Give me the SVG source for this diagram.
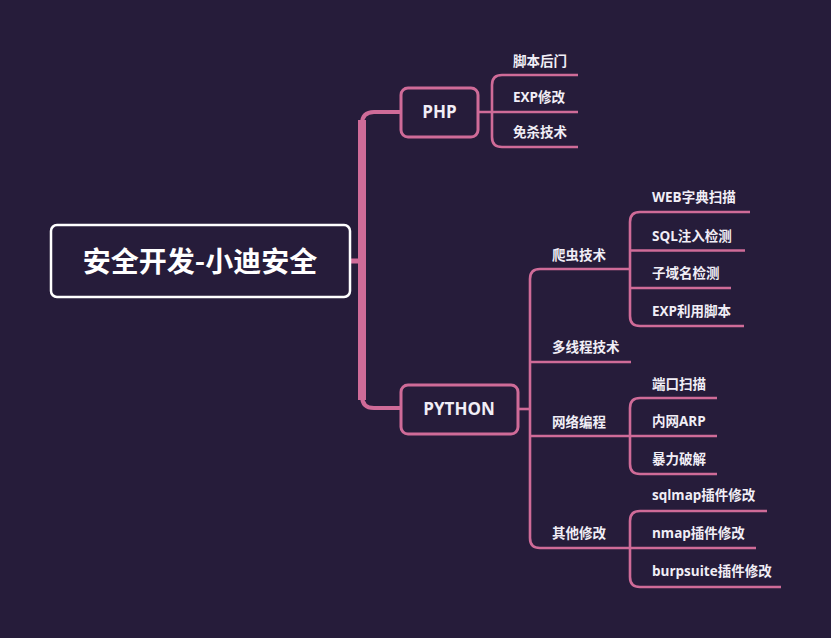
<svg xmlns="http://www.w3.org/2000/svg" width="831" height="638" viewBox="0 0 831 638">
<style>
.ln{fill:none;stroke:#cf6b98;stroke-width:2.6;stroke-linecap:butt}
.t{font-family:"Open Sans","Noto Sans CJK SC",sans-serif;font-weight:bold;fill:#f1eef6;font-size:13.5px}
.nb{fill:#261c3a;stroke:#cf6b98;stroke-width:3}
.nt{font-family:"Open Sans","Noto Sans CJK SC",sans-serif;font-weight:bold;fill:#f1eef6;font-size:17px;text-anchor:middle}
</style>
<rect width="831" height="638" fill="#261c3a"/>
<g id="connectors">
<path d="M350 261 H363" stroke="#cf6b98" stroke-width="5" fill="none"/>
<path d="M401 112 H374 Q362 112 362 124 V396 Q362 408 374 408 H401" fill="none" stroke="#cf6b98" stroke-width="4"/>
<path d="M362 120 V400" stroke="#cf6b98" stroke-width="8" fill="none"/>
<path class="ln" d="M478 112 H578"/>
<path class="ln" d="M578 75 H502 Q492 75 492 85 V137 Q492 147 502 147 H578"/>
<path class="ln" d="M518 409 H530"/>
<path class="ln" d="M630 269 H540 Q530 269 530 279 V538 Q530 548 540 548 H630"/>
<path class="ln" d="M530 362 H631"/>
<path class="ln" d="M530 436 H717"/>
<path class="ln" d="M750 212 H640 Q630 212 630 222 V316 Q630 326 640 326 H744"/>
<path class="ln" d="M630 250.5 H745"/>
<path class="ln" d="M630 288 H731"/>
<path class="ln" d="M717 398 H640 Q630 398 630 408 V464 Q630 474 640 474 H717"/>
<path class="ln" d="M767 511 H640 Q630 511 630 521 V577 Q630 587 640 587 H781"/>
<path class="ln" d="M630 548 H756"/>
</g>
<g id="root">
<rect x="51" y="225" width="299" height="72" rx="6" fill="#261c3a" stroke="#ffffff" stroke-width="2.5"/>
<text x="200" y="272" text-anchor="middle" font-family="'Noto Sans CJK SC',sans-serif" font-weight="bold" font-size="28" fill="#ffffff">安全开发-小迪安全</text>
</g>
<g id="php">
<rect class="nb" x="401" y="88" width="77" height="49" rx="7"/>
<text class="nt" x="439.5" y="118">PHP</text>
</g>
<g id="python">
<rect class="nb" x="401" y="385" width="117" height="49" rx="7"/>
<text class="nt" x="459" y="415">PYTHON</text>
</g>
<g id="php-children">
<text class="t" x="513" y="66">脚本后门</text>
<text class="t" x="513" y="102">EXP修改</text>
<text class="t" x="513" y="137">免杀技术</text>
</g>
<g id="python-children">
<text class="t" x="552" y="260">爬虫技术</text>
<text class="t" x="552" y="352">多线程技术</text>
<text class="t" x="552" y="427">网络编程</text>
<text class="t" x="552" y="538">其他修改</text>
</g>
<g id="crawler-children">
<text class="t" x="652" y="202">WEB字典扫描</text>
<text class="t" x="652" y="241">SQL注入检测</text>
<text class="t" x="652" y="278">子域名检测</text>
<text class="t" x="652" y="316">EXP利用脚本</text>
</g>
<g id="network-children">
<text class="t" x="652" y="389">端口扫描</text>
<text class="t" x="652" y="426">内网ARP</text>
<text class="t" x="652" y="464">暴力破解</text>
</g>
<g id="other-children">
<text class="t" x="652" y="500">sqlmap插件修改</text>
<text class="t" x="652" y="538">nmap插件修改</text>
<text class="t" x="652" y="576">burpsuite插件修改</text>
</g>
</svg>
